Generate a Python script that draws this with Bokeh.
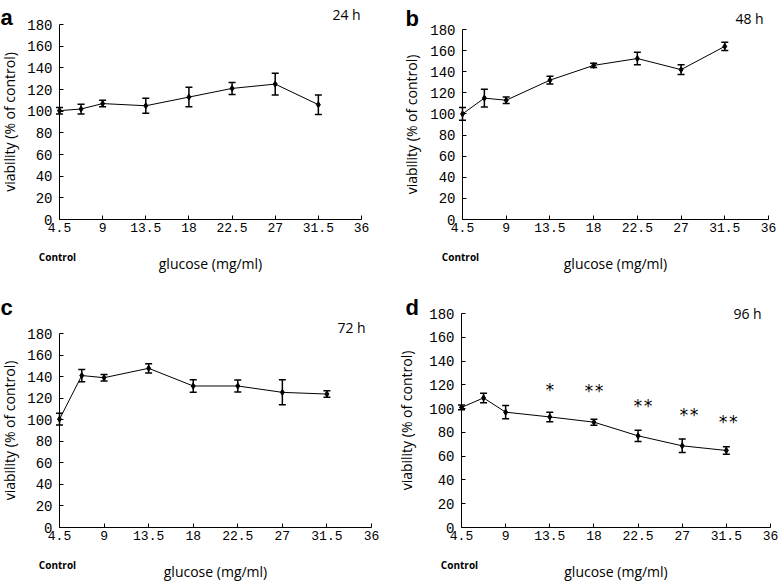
from bokeh.plotting import figure
from bokeh.layouts import row, column
from bokeh.models import ColumnDataSource, Whisker, TeeHead, Label, FixedTicker
from bokeh.core.properties import value
from bokeh.embed import file_html
from bokeh.resources import INLINE

# ---- data ----
glucose = [4.5, 6.75, 9, 13.5, 18, 22.5, 27, 31.5]
x_ticks = [4.5, 9, 13.5, 18, 22.5, 27, 31.5, 36]
x_tick_labels = ["4.5", "9", "13.5", "18", "22.5", "27", "31.5", "36"]
y_ticks = [0, 20, 40, 60, 80, 100, 120, 140, 160, 180]

via_24h = [100.5, 102, 107, 105, 113, 121, 125, 106]
err_24h = [3, 4.5, 3, 7, 9, 5.5, 10, 9]
via_48h = [100, 115, 113, 132, 146, 152.5, 142, 164]
err_48h = [6, 8.5, 3, 3.6, 2, 6, 4.7, 4]
via_72h = [100.5, 141, 139, 147.7, 131.3, 131.3, 125.4, 123.8]
err_72h = [5.4, 5.7, 3, 4.3, 5.7, 5.6, 11.6, 3]
via_96h = [101, 109, 97, 93, 88.6, 77.1, 68.7, 64.8]
err_96h = [2, 4, 5.6, 4, 2.5, 4.8, 5.7, 3.2]

sig_x = [13.5, 18, 23.0, 27.7, 31.7]
sig_y = [117.5, 116.3, 103.5, 96.4, 90.8]
sig_text = ["*", "**", "**", "**", "**"]

panel_letters = ["a", "b", "c", "d"]
hour_labels = ["24 h", "48 h", "72 h", "96 h"]

X_MIN, X_MAX = x_ticks[0], x_ticks[-1]
Y_MIN, Y_MAX = y_ticks[0], y_ticks[-1]


def make_panel(letter, hours, via, err, W, H, px0, px1, py_top, py_bot,
               letter_pos, hours_pos, control_dy, x_title_standoff, y_title_standoff):
    # frame covers the whole figure; ranges chosen so the axes sit at the wanted pixels
    sx = (px1 - px0) / (X_MAX - X_MIN)
    sy = (py_bot - py_top) / (Y_MAX - Y_MIN)
    x_range = (X_MIN - px0 / sx, X_MAX + (W - px1) / sx)
    y_range = (Y_MIN - (H - py_bot) / sy, Y_MAX + py_top / sy)

    p = figure(width=W, height=H, x_range=x_range, y_range=y_range,
               output_backend="svg", toolbar_location=None, min_border=0,
               background_fill_color="white", border_fill_color="white")
    p.outline_line_color = None
    p.xgrid.visible = False
    p.ygrid.visible = False

    for ax in (p.xaxis[0], p.yaxis[0]):
        ax.axis_line_color = "black"
        ax.axis_line_width = 1
        ax.major_tick_line_color = "black"
        ax.major_tick_in = 4
        ax.major_tick_out = 0
        ax.minor_tick_in = 0
        ax.minor_tick_out = 0
        ax.major_label_text_color = "black"
        ax.major_label_text_font = "Liberation Mono"
        ax.axis_label_text_font = "Open Sans"
        ax.axis_label_text_font_size = "14px"
        ax.axis_label_text_font_style = "normal"
        ax.axis_label_text_color = "black"

    p.xaxis.fixed_location = Y_MIN
    p.xaxis.bounds = (X_MIN, X_MAX)
    p.xaxis.ticker = FixedTicker(ticks=x_ticks)
    p.xaxis.major_label_overrides = dict(zip(x_ticks, x_tick_labels))
    p.xaxis.major_label_text_font_size = "13px"
    p.xaxis.major_label_standoff = 3
    p.xaxis.axis_label = "glucose (mg/ml)"
    p.xaxis.axis_label_standoff = x_title_standoff

    p.yaxis.fixed_location = X_MIN
    p.yaxis.bounds = (Y_MIN, Y_MAX)
    p.yaxis.ticker = FixedTicker(ticks=y_ticks)
    p.yaxis.major_label_text_font_size = "14px"
    p.yaxis.major_label_standoff = 7
    p.yaxis.axis_label = "viability (% of control)"
    p.yaxis.axis_label_standoff = y_title_standoff

    lower = [v - e for v, e in zip(via, err)]
    upper = [v + e for v, e in zip(via, err)]
    src = ColumnDataSource(dict(x=glucose, y=via, lower=lower, upper=upper))

    p.line("x", "y", source=src, line_color="black", line_width=1)
    p.add_layout(Whisker(source=src, base="x", lower="lower", upper="upper",
                         line_color="black", line_width=1.5,
                         lower_head=TeeHead(size=7, line_width=1.5, line_color="black"),
                         upper_head=TeeHead(size=7, line_width=1.5, line_color="black")))
    p.scatter("x", "y", source=src, marker="diamond", size=6,
              fill_color="black", line_color="black")

    # panel letter (screen units: from frame left / frame bottom)
    p.add_layout(Label(x=letter_pos[0], x_units="screen", y=H - letter_pos[1],
                       y_units="screen", text=letter, text_font="Liberation Sans",
                       text_font_style="bold", text_font_size="22px",
                       text_baseline="alphabetic", text_align="left",
                       text_color="black"))
    # time label
    p.add_layout(Label(x=hours_pos[0], x_units="screen", y=H - hours_pos[1],
                       y_units="screen", text=hours, text_font="Open Sans",
                       text_font_size="14px", text_baseline="middle",
                       text_align="center", text_color="black"))
    # control label under the first tick
    p.add_layout(Label(x=glucose[0], x_units="data", y=H - (py_bot + control_dy),
                       y_units="screen", x_offset=-2, text="Control",
                       text_font="Open Sans", text_font_style="bold",
                       text_font_size="10px", text_baseline="middle",
                       text_align="center", text_color="black"))
    return p


pa = make_panel(panel_letters[0], hour_labels[0], via_24h, err_24h,
                398, 290, 59, 361, 24, 219, (0, 17), (346, 14), 37, 19, 5)
pb = make_panel(panel_letters[1], hour_labels[1], via_48h, err_48h,
                380, 290, 64, 370, 29, 219, (7, 18), (351, 18), 37, 19, 6)
pc = make_panel(panel_letters[2], hour_labels[2], via_72h, err_72h,
                398, 291, 59, 371, 43, 237, (0, 17), (351, 37), 37, 19, 5)
pd = make_panel(panel_letters[3], hour_labels[3], via_96h, err_96h,
                380, 291, 63, 372, 23, 237, (7, 17), (349, 23), 37, 19, 10)

pd.text(x=sig_x, y=sig_y, text=sig_text, text_font=value("DejaVu Sans Mono"),
        text_font_size="17px", text_align="center", text_baseline="middle",
        y_offset=2, text_color="black")

layout = column(row(pa, pb, spacing=0), row(pc, pd, spacing=0), spacing=0)

open("out.html", "w").write(file_html(layout, INLINE))
